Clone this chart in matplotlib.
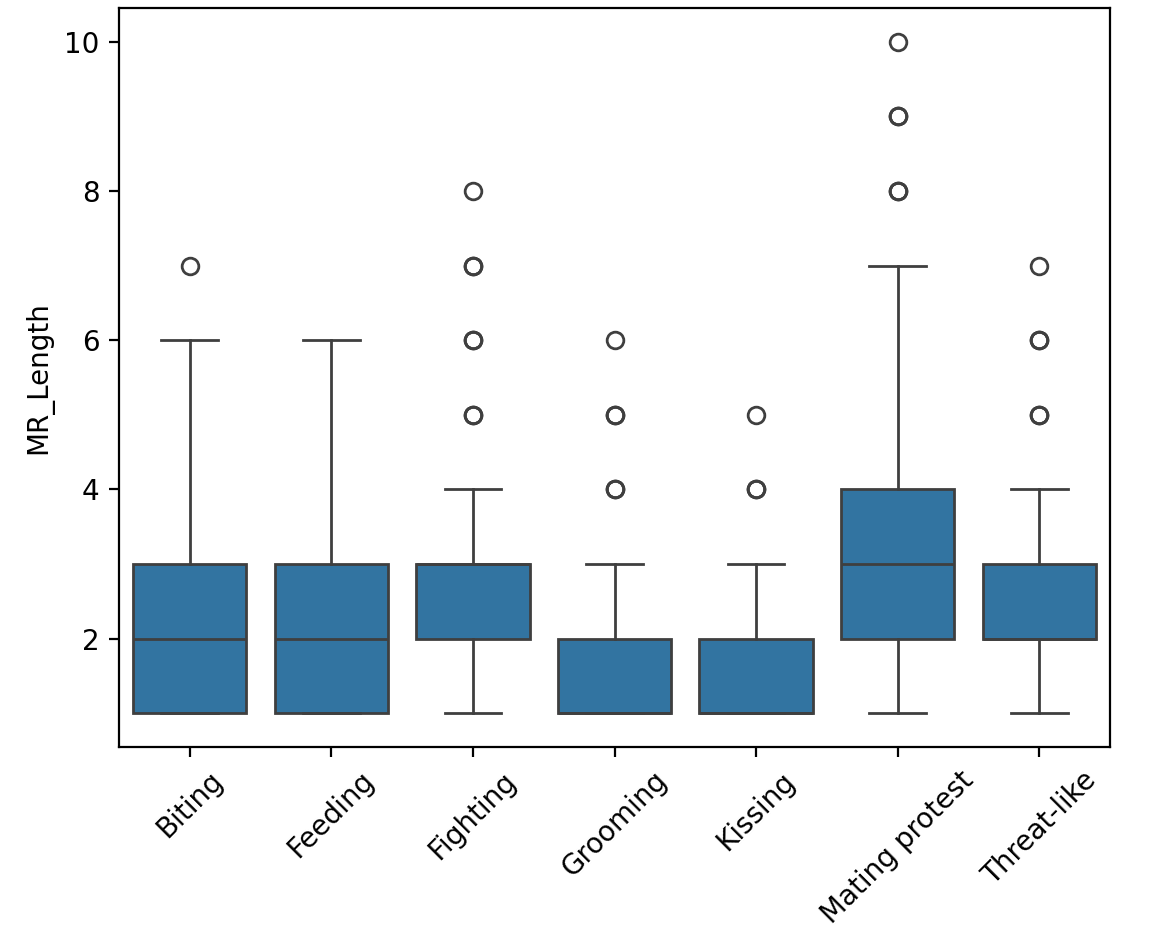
import matplotlib
matplotlib.use("Agg")
import matplotlib.pyplot as plt

categories = ["Biting", "Feeding", "Fighting", "Grooming", "Kissing", "Mating protest", "Threat-like"]
whislo = [1, 1, 1, 1, 1, 1, 1]
q1 = [1, 1, 2, 1, 1, 2, 2]
med = [2, 2, 3, 1, 1, 3, 2]
q3 = [3, 3, 3, 2, 2, 4, 3]
whishi = [6, 6, 4, 3, 3, 7, 4]
fliers = [
    [7],
    [],
    [5, 5, 5, 6, 6, 6, 7, 7, 7, 8],
    [4, 4, 4, 5, 5, 5, 6],
    [4, 4, 4, 5],
    [8, 8, 8, 9, 9, 9, 10],
    [5, 5, 5, 6, 6, 6, 7],
]
ylabel = "MR_Length"

stats = []
for i, c in enumerate(categories):
    stats.append(dict(label=c, whislo=whislo[i], q1=q1[i], med=med[i],
                      q3=q3[i], whishi=whishi[i], fliers=fliers[i]))

fig = plt.figure(figsize=(5.77, 4.65), dpi=200)
ax = fig.add_axes([119 / 1154, 1 - 747 / 930, (1110 - 119) / 1154, (747 - 8) / 930])

face = "#3274a1"
lc = "#3f3f3f"
lw = 1.0
ax.bxp(stats, positions=range(len(categories)), widths=0.8, patch_artist=True,
       boxprops=dict(facecolor=face, edgecolor=lc, linewidth=lw),
       medianprops=dict(color=lc, linewidth=lw),
       whiskerprops=dict(color=lc, linewidth=lw),
       capprops=dict(color=lc, linewidth=lw),
       flierprops=dict(marker="o", markerfacecolor="none", markeredgecolor=lc,
                       markersize=6, markeredgewidth=lw))

ax.set_xlim(-0.5, len(categories) - 0.5)
ax.set_ylim(0.55, 10.45)
ax.set_yticks([2, 4, 6, 8, 10])
ax.set_xticks(range(len(categories)))
ax.set_xticklabels(categories, rotation=45)
ax.set_ylabel(ylabel)
ax.set_xlabel("")

fig.savefig("out.png", dpi=200)
